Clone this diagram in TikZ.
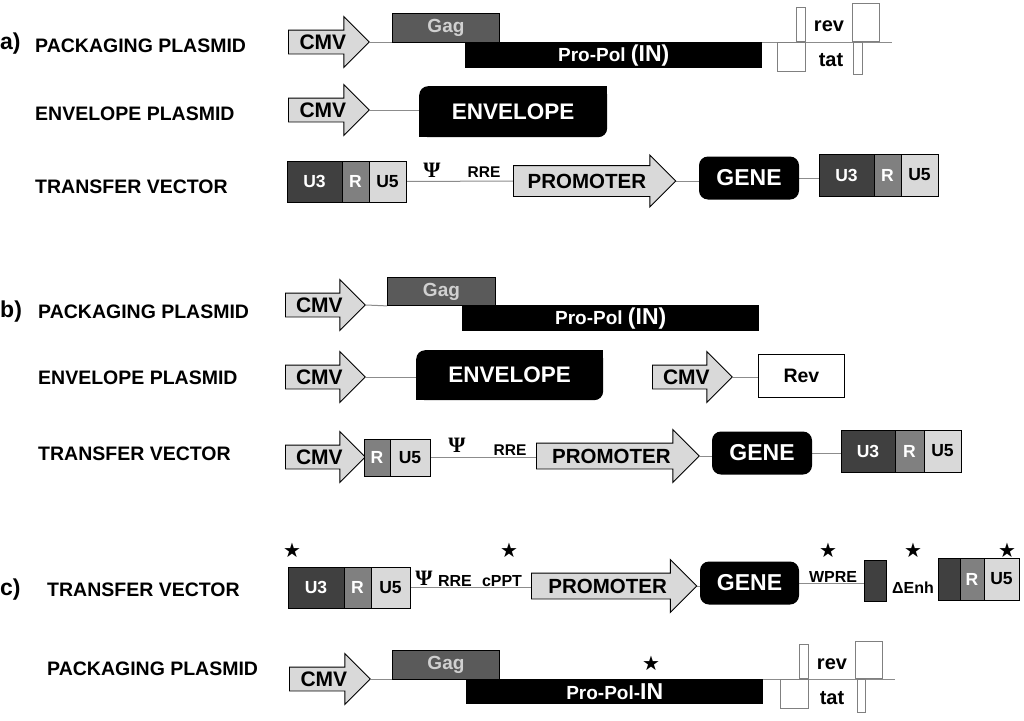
\documentclass[tikz,border=0pt]{standalone}
\usepackage{fontspec}
\setmainfont{Liberation Sans}
\newfontfamily\psifont{Liberation Serif}
\newfontfamily\starfont{DejaVu Sans}
\usetikzlibrary{shapes.arrows,positioning,backgrounds}
\definecolor{ltrdark}{HTML}{404040}
\definecolor{ltrmid}{HTML}{808080}
\definecolor{ltrlight}{HTML}{D9D9D9}
\definecolor{gagfill}{HTML}{5A5A5A}
\definecolor{gagtext}{HTML}{D0D0D0}
\newcommand\fsz[1]{\fontsize{#1}{#1}\selectfont\bfseries}

\begin{document}
\begin{tikzpicture}[x=1pt, y=-1pt,
  lbl/.style={anchor=west, inner sep=0pt, font=\fsz{19.5}},
  tag/.style={anchor=west, inner sep=0pt, font=\fsz{23}},
  cmv/.style={single arrow, draw=black, fill=ltrlight, line width=0.9pt, anchor=tail,
    inner sep=0pt, text width=68pt, align=center, text height=19pt, text depth=4pt,
    single arrow head extend=13.5pt, font=\fsz{21}},
  promo/.style={cmv, text width=149pt, text height=19.7pt, text depth=5.3pt, font=\fsz{20.5}},
  gag/.style={draw=black, fill=gagfill, text=gagtext, line width=0.9pt, anchor=north west,
    inner sep=0pt, minimum width=107pt, minimum height=29pt, font=\fsz{19}},
  pol/.style={fill=black, text=white, anchor=north west, inner sep=0pt,
    minimum width=297pt, minimum height=26pt, font=\fsz{19}},
  env/.style={fill=black, text=white, rounded corners=9pt, anchor=north west, inner sep=0pt,
    minimum width=188pt, minimum height=51pt, font=\fsz{22.5}},
  gene/.style={fill=black, text=white, rounded corners=9pt, inner sep=0pt,
    minimum width=100pt, minimum height=43pt, font=\fsz{23}},
  ltr/.style={draw=black, line width=0.9pt, inner sep=0pt, outer sep=0pt,
    minimum height=41pt, font=\fsz{17.5}},
  u3/.style={ltr, fill=ltrdark, text=white, minimum width=55pt},
  rr/.style={ltr, fill=ltrmid, text=white, minimum width=27pt},
  u5/.style={ltr, fill=ltrlight, minimum width=37pt},
  orf/.style={draw=black!50, fill=white, line width=0.8pt, inner sep=0pt},
  site/.style={inner sep=0pt, font=\fsz{15.5}},
  psi/.style={inner sep=0pt, font=\psifont\bfseries\fontsize{22}{22}\selectfont},
  star/.style={inner sep=0pt, font=\starfont\fontsize{20}{20}\selectfont},
  dna/.style={draw=black!45, line width=1pt}
]
\path[use as bounding box] (0,0) rectangle (1024,720);

% ---------- a) ----------
\node[tag] (taga) at (0,44) {a)};
\node[lbl] (lpa) at (35,46) {PACKAGING PLASMID};
\node[lbl] (lea) at (35,114) {ENVELOPE PLASMID};
\node[lbl] (lta) at (35,187) {TRANSFER VECTOR};

\node[cmv] (cmva1) at (288,42) {CMV};
\node[gag] (gaga) at (392,13) {Gag};
\node[pol] (pola) at (465,42) {Pro-Pol {\fsz{23}(IN)}};
\node[orf, anchor=north west, minimum width=28pt, minimum height=29pt] (tata1) at (777,42) {};
\node[orf, anchor=south west, minimum width=9pt, minimum height=34pt] (reva1) at (796,42) {};
\node[orf, anchor=south west, minimum width=27pt, minimum height=38pt] (reva2) at (852,42) {};
\node[orf, anchor=north west, minimum width=9pt, minimum height=32pt] (tata2) at (853,42) {};
\node[inner sep=0pt, font=\fsz{20}] (reva) at (829,26) {rev};
\node[inner sep=0pt, font=\fsz{20}] (tata) at (831,60) {tat};
\coordinate (enda) at (892,42);

\node[cmv] (cmva2) at (288,110) {CMV};
\node[env] (enva) at (419,86) {ENVELOPE};
\fill ([shift={(-12pt,-12pt)}]enva.north east) rectangle (enva.north east);
\fill (enva.south west) rectangle ([shift={(12pt,12pt)}]enva.south west);

\node[u3, anchor=north west] (u3a) at (287,161) {U3};
\node[rr, right=0pt of u3a] (ra) {R};
\node[u5, right=0pt of ra] (u5a) {U5};
\node[psi] (psia) at (432,170) {Ψ};
\node[site] (rrea) at (484,172) {RRE};
\node[promo, text width=146pt, text height=22.2pt, text depth=7.8pt,
  single arrow head extend=10.5pt] (proma) at (513,181) {PROMOTER};
\node[gene] (genea) at (749,178) {GENE};
\node[u3, anchor=north west, minimum height=42pt] (u3ar) at (819,154) {U3};
\node[rr, right=0pt of u3ar, minimum height=42pt] (rar) {R};
\node[u5, right=0pt of rar, minimum height=42pt] (u5ar) {U5};

% ---------- b) ----------
\node[tag] (tagb) at (0,312) {b)};
\node[lbl] (lpb) at (38,312) {PACKAGING PLASMID};
\node[lbl] (leb) at (38,378) {ENVELOPE PLASMID};
\node[lbl] (ltb) at (38,454) {TRANSFER VECTOR};

\node[cmv, text width=67pt] (cmvb1) at (285,305) {CMV};
\node[gag, minimum width=108pt, minimum height=28pt] (gagb) at (387,277) {Gag};
\node[pol] (polb) at (462,305) {Pro-Pol {\fsz{23}(IN)}};

\node[cmv, text width=67pt] (cmvb2) at (285,377) {CMV};
\node[env, minimum width=187pt, minimum height=50pt] (envb) at (416,350) {ENVELOPE};
\fill ([shift={(-12pt,-12pt)}]envb.north east) rectangle (envb.north east);
\fill (envb.south west) rectangle ([shift={(12pt,12pt)}]envb.south west);
\node[cmv, text width=67pt] (cmvb3) at (652,377) {CMV};
\node[draw=black, line width=0.9pt, fill=white, anchor=north west, inner sep=0pt,
  minimum width=86pt, minimum height=43pt, font=\fsz{19.5}] (revb) at (758,354) {Rev};

\node[cmv, text width=67pt] (cmvb4) at (285,457) {CMV};
\node[rr, anchor=north west, minimum width=26pt, minimum height=37pt] (rb) at (364,439) {R};
\node[u5, right=0pt of rb, minimum width=40pt, minimum height=37pt] (u5b) {U5};
\node[psi] (psib) at (457,445) {Ψ};
\node[site] (rreb) at (510,450) {RRE};
\node[promo] (promb) at (536,456) {PROMOTER};
\node[gene] (geneb) at (762,453) {GENE};
\node[u3, anchor=north west, minimum width=54pt, minimum height=42pt] (u3br) at (841,430) {U3};
\node[rr, right=0pt of u3br, minimum width=29pt, minimum height=42pt] (rbr) {R};
\node[u5, right=0pt of rbr, minimum height=42pt] (u5br) {U5};

% ---------- c) ----------
\node[tag] (tagc) at (0,590) {c)};
\node[lbl] (ltc) at (47,590) {TRANSFER VECTOR};
\node[lbl] (lpc) at (47,669) {PACKAGING PLASMID};

\foreach \sx [count=\i] in {292,509,828,913,1007}
  \node[star] (star\i) at (\sx,550) {★};

\node[u3, anchor=north west, minimum width=56pt] (u3c) at (288,567) {U3};
\node[rr, right=0pt of u3c] (rc) {R};
\node[u5, right=0pt of rc, minimum width=39pt] (u5c) {U5};
\node[psi] (psic) at (424,578) {Ψ};
\node[site, font=\fsz{16}] (rrec) at (455,581) {RRE};
\node[site, font=\fsz{16}] (cpptc) at (502,581) {cPPT};
\node[promo, text width=151.5pt] (promc) at (531,586) {PROMOTER};
\node[gene, minimum width=99pt] (genec) at (749.5,583) {GENE};
\node[site, font=\fsz{16}] (wprec) at (833,577) {WPRE};
\node[ltr, fill=ltrdark, anchor=north west, minimum width=22pt] (enhc) at (864,560) {};
\node[site, font=\fsz{16}] (denhc) at (913,588) {ΔEnh};
\node[ltr, fill=ltrdark, anchor=north west, minimum width=22pt, minimum height=42pt] (u3cr) at (938,558) {};
\node[rr, right=0pt of u3cr, minimum width=24pt, minimum height=42pt] (rcr) {R};
\node[u5, right=0pt of rcr, minimum width=35pt, minimum height=42pt] (u5cr) {U5};

\node[cmv] (cmvc) at (289,679) {CMV};
\node[gag] (gagc) at (392,650) {Gag};
\node[pol, minimum width=297pt, minimum height=25pt] (polc) at (466,679) {Pro-Pol-{\fsz{23}IN}};
\node[star] (star6) at (651,663) {★};
\node[orf, anchor=north west, minimum width=28pt, minimum height=29pt] (tatc1) at (780,679) {};
\node[orf, anchor=south west, minimum width=9pt, minimum height=34pt] (revc1) at (799,679) {};
\node[orf, anchor=south west, minimum width=27pt, minimum height=37pt] (revc2) at (855,679) {};
\node[orf, anchor=north west, minimum width=8pt, minimum height=33pt] (tatc2) at (857,679) {};
\node[inner sep=0pt, font=\fsz{20}] (revc) at (832,664) {rev};
\node[inner sep=0pt, font=\fsz{20}] (tatc) at (832,698) {tat};
\coordinate (endc) at (895,679);

% backbone lines
\begin{scope}[on background layer]
  \fill[white] (0,0) rectangle (1024,720);
  \draw[dna] (cmva1.tip) -- (enda);
  \draw[dna] (cmva2.tip) -- (cmva2.tip -| enva.west);
  \draw[dna] (u5a.east) -- (proma.tail);
  \draw[dna] (proma.tip) -- (proma.tip -| genea.west);
  \draw[dna] (genea.east) -- (genea.east -| u3ar.west);
  \draw[dna] (cmvb1.tip) -- (gagb.south west);
  \draw[dna] (cmvb2.tip) -- (cmvb2.tip -| envb.west);
  \draw[dna] (cmvb3.tip) -- (cmvb3.tip -| revb.west);
  \draw[dna] (u5b.east) -- (u5b.east -| promb.tail);
  \draw[dna] (promb.tip) -- (promb.tip -| geneb.west);
  \draw[dna] (geneb.east) -- (geneb.east -| u3br.west);
  \draw[dna] (u5c.east) -- (u5c.east -| promc.tail);
  \draw[dna] (promc.tip) -- (promc.tip -| genec.west);
  \draw[dna] (genec.east) -- (genec.east -| enhc.west);
  \draw[dna] (cmvc.tip) -- (endc);
\end{scope}
\end{tikzpicture}
\end{document}
